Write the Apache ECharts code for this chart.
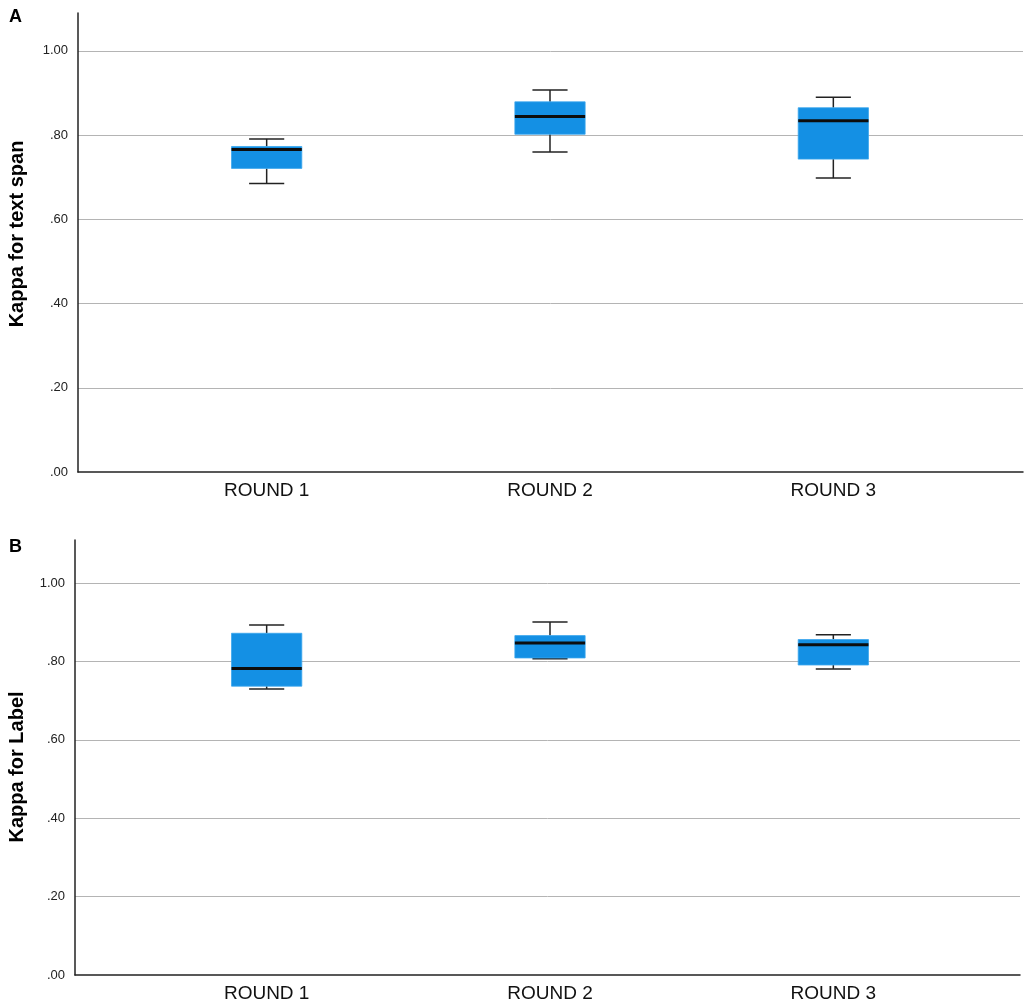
<!DOCTYPE html>
<html>
<head>
<meta charset="utf-8">
<title>Kappa by round</title>
<script src="https://cdn.jsdelivr.net/npm/echarts@6/dist/echarts.min.js"></script>
<style>
  html, body { margin: 0; padding: 0; background: #fff; }
  #chart { width: 1026px; height: 1004px; }
</style>
</head>
<body>
<div id="chart"></div>
<script>
const rounds = ['ROUND 1', 'ROUND 2', 'ROUND 3'];

// Panel A: kappa for text span
const spanLow = [0.685, 0.760, 0.698];
const spanQ1 = [0.721, 0.802, 0.743];
const spanMed = [0.766, 0.844, 0.834];
const spanQ3 = [0.773, 0.879, 0.865];
const spanHigh = [0.791, 0.907, 0.890];

// Panel B: kappa for label
const labelLow = [0.730, 0.807, 0.781];
const labelQ1 = [0.737, 0.809, 0.791];
const labelMed = [0.782, 0.847, 0.843];
const labelQ3 = [0.872, 0.866, 0.856];
const labelHigh = [0.893, 0.901, 0.868];

const BOX_BLUE = '#1490e4';
const INK = '#222';
const FONT = 'Liberation Sans, Arial, sans-serif';

const chart = echarts.init(document.getElementById('chart'));

function buildRows(lo, q1, med, q3, hi) {
    return rounds.map((_, i) => [i, lo[i], q1[i], med[i], q3[i], hi[i]]);
}

function renderBox(params, api) {
    const i = api.value(0);
    const lo = api.coord([i, api.value(1)]);
    const q1 = api.coord([i, api.value(2)]);
    const med = api.coord([i, api.value(3)]);
    const q3 = api.coord([i, api.value(4)]);
    const hi = api.coord([i, api.value(5)]);
    const band = api.size([1, 0])[0];
    const bw = band * 0.248;
    const cw = bw / 2;
    const cx = lo[0];
    const whisker = { stroke: INK, lineWidth: 1.5 };
    return {
        type: 'group',
        children: [
            { type: 'line', shape: { x1: cx, y1: hi[1], x2: cx, y2: q3[1] }, style: whisker },
            { type: 'line', shape: { x1: cx, y1: q1[1], x2: cx, y2: lo[1] }, style: whisker },
            { type: 'line', shape: { x1: cx - cw / 2, y1: hi[1], x2: cx + cw / 2, y2: hi[1] }, style: whisker },
            { type: 'line', shape: { x1: cx - cw / 2, y1: lo[1], x2: cx + cw / 2, y2: lo[1] }, style: whisker },
            { type: 'rect', shape: { x: cx - bw / 2, y: q3[1], width: bw, height: q1[1] - q3[1] },
              style: { fill: BOX_BLUE, stroke: '#3aa6ee', lineWidth: 0.8 } },
            { type: 'line', shape: { x1: cx - bw / 2, y1: med[1], x2: cx + bw / 2, y2: med[1] },
              style: { stroke: '#0d0d0d', lineWidth: 3 } }
        ]
    };
}

function tickText(v) {
    return v.toFixed(2).replace(/^0/, '');
}

// background grids carry the long axis lines and gridlines,
// foreground grids carry the categories and boxes
const grids = [
    { left: 78, right: 3, top: 13, height: 459 },
    { left: 125, right: 51, top: 13, height: 459 },
    { left: 75, right: 6, top: 540, height: 435 },
    { left: 125, right: 51, top: 540, height: 435 }
];

function bgX(gridIndex) {
    return {
        type: 'value', gridIndex, min: 0, max: 1,
        axisLine: { show: true, onZero: false, lineStyle: { color: INK, width: 1.5 } },
        axisTick: { show: false }, axisLabel: { show: false }, splitLine: { show: false }
    };
}

function fgX(gridIndex) {
    return {
        type: 'category', gridIndex, data: rounds,
        axisLine: { show: false }, axisTick: { show: false },
        axisLabel: { margin: 9, fontSize: 19, color: '#111', fontFamily: FONT }
    };
}

function bgY(gridIndex, max) {
    return {
        type: 'value', gridIndex, min: 0, max, interval: 0.2,
        axisLine: { show: true, lineStyle: { color: INK, width: 1.5 } },
        axisTick: { show: false },
        axisLabel: { margin: 10, fontSize: 13, color: '#222', fontFamily: FONT,
                     showMaxLabel: false, formatter: tickText },
        splitLine: { show: true, showMinLine: false, showMaxLine: false,
                     lineStyle: { color: '#b4b4b4', width: 1 } }
    };
}

function fgY(gridIndex, max) {
    return {
        type: 'value', gridIndex, min: 0, max, show: false, splitLine: { show: false }
    };
}

chart.setOption({
    animation: false,
    backgroundColor: '#fff',
    title: [
        { text: 'A', left: 4, top: 3, textStyle: { fontSize: 18, fontWeight: 'bold', color: '#000', fontFamily: FONT } },
        { text: 'B', left: 4, top: 533, textStyle: { fontSize: 18, fontWeight: 'bold', color: '#000', fontFamily: FONT } }
    ],
    graphic: [
        { type: 'text', x: 17, y: 234, rotation: Math.PI / 2,
          style: { text: 'Kappa for text span', font: 'bold 20px ' + FONT, fill: '#000',
                   textAlign: 'center', textVerticalAlign: 'middle' } },
        { type: 'text', x: 17, y: 767, rotation: Math.PI / 2,
          style: { text: 'Kappa for Label', font: 'bold 20px ' + FONT, fill: '#000',
                   textAlign: 'center', textVerticalAlign: 'middle' } }
    ],
    grid: grids,
    xAxis: [bgX(0), fgX(1), bgX(2), fgX(3)],
    yAxis: [bgY(0, 1.09), fgY(1, 1.09), bgY(2, 1.11), fgY(3, 1.11)],
    series: [
        {
            type: 'custom', name: 'Kappa for text span', xAxisIndex: 1, yAxisIndex: 1,
            renderItem: renderBox,
            encode: { x: 0, y: [1, 2, 3, 4, 5] },
            data: buildRows(spanLow, spanQ1, spanMed, spanQ3, spanHigh)
        },
        {
            type: 'custom', name: 'Kappa for Label', xAxisIndex: 3, yAxisIndex: 3,
            renderItem: renderBox,
            encode: { x: 0, y: [1, 2, 3, 4, 5] },
            data: buildRows(labelLow, labelQ1, labelMed, labelQ3, labelHigh)
        }
    ]
});
</script>
</body>
</html>
